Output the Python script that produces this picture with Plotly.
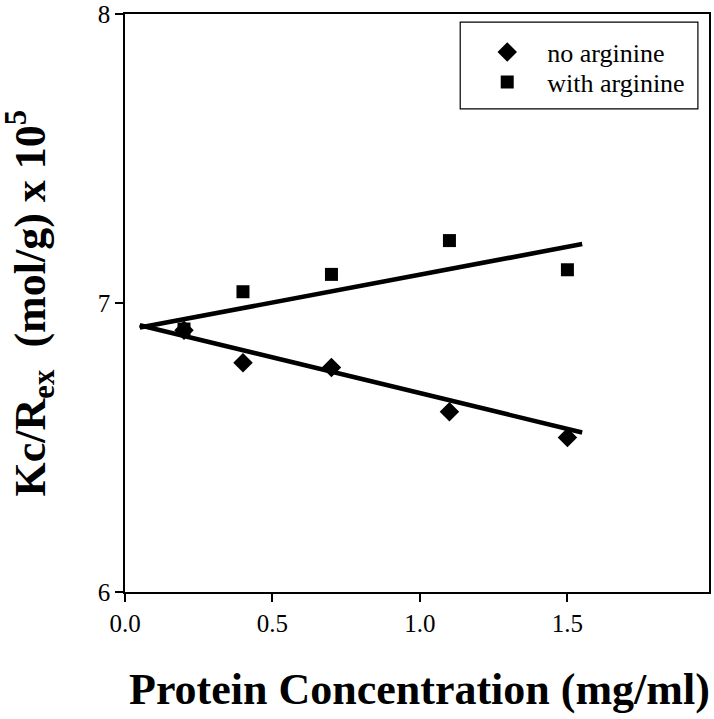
import plotly.graph_objects as go

# Data
conc_no = [0.2, 0.4, 0.7, 1.1, 1.5]
kc_no = [6.906, 6.793, 6.777, 6.624, 6.535]
conc_with = [0.2, 0.4, 0.7, 1.1, 1.5]
kc_with = [6.91, 7.039, 7.099, 7.216, 7.115]
trend_x = [0.05, 1.55]
trend_no = [6.923, 6.552]
trend_with = [6.915, 7.204]
x_ticks = [0.0, 0.5, 1.0, 1.5]
x_tick_labels = ["0.0", "0.5", "1.0", "1.5"]
y_ticks = [6, 7, 8]

FONT = "Liberation Serif, Times New Roman, serif"

fig = go.Figure()
fig.add_trace(go.Scatter(x=trend_x, y=trend_no, mode="lines",
                         line=dict(color="black", width=4.6), showlegend=False,
                         hoverinfo="skip"))
fig.add_trace(go.Scatter(x=trend_x, y=trend_with, mode="lines",
                         line=dict(color="black", width=4.6), showlegend=False,
                         hoverinfo="skip"))
fig.add_trace(go.Scatter(x=conc_no, y=kc_no, mode="markers", name="no arginine",
                         marker=dict(symbol="diamond", size=15, color="black"),
                         legend="legend"))
fig.add_trace(go.Scatter(x=conc_with, y=kc_with, mode="markers", name="with arginine",
                         marker=dict(symbol="square", size=13, color="black"),
                         legend="legend2"))

axis_common = dict(showline=True, linecolor="black", linewidth=1.5, mirror=True,
                   ticks="outside", ticklen=8, tickwidth=1.5, tickcolor="black",
                   showgrid=False, zeroline=False, ticklabeloverflow="allow",
                   automargin=False,
                   tickfont=dict(family=FONT, size=25, color="black"))

fig.update_xaxes(range=[0, 1.98], tickvals=x_ticks, ticktext=x_tick_labels, **axis_common)
fig.update_yaxes(range=[6, 8], tickvals=y_ticks, **axis_common)

legend_common = dict(xanchor="left", yanchor="middle", borderwidth=0,
                     bgcolor="rgba(0,0,0,0)",
                     font=dict(family=FONT, size=26, color="black"),
                     itemwidth=70)

fig.update_layout(
    width=714, height=719,
    margin=dict(l=125, r=5, t=14, b=126.5),
    paper_bgcolor="white", plot_bgcolor="white",
    showlegend=True,
    legend=dict(x=0.586, y=0.934, **legend_common),
    legend2=dict(x=0.586, y=0.882, **legend_common),
    shapes=[
        dict(type="rect", xref="paper", yref="paper",
             x0=0.574, x1=0.981, y0=0.836, y1=0.986,
             line=dict(color="black", width=1.2), fillcolor="rgba(0,0,0,0)"),
    ],
    annotations=[
        dict(text="<b>Kc/R<sub>ex</sub>  (mol/g) x 10<sup>5</sup></b>", xref="paper", yref="paper",
             x=-0.162, y=0.5, xanchor="center", yanchor="middle", textangle=-90,
             showarrow=False, font=dict(family=FONT, size=44, color="black")),
        dict(text="<b>Protein Concentration (mg/ml)</b>", xref="paper", yref="paper",
             x=0.505, y=-0.1685, xanchor="center", yanchor="middle",
             showarrow=False, font=dict(family=FONT, size=44, color="black")),
    ],
)

fig.write_html("out.html", config={"displayModeBar": False},
               post_script="document.body.style.margin='0';")
